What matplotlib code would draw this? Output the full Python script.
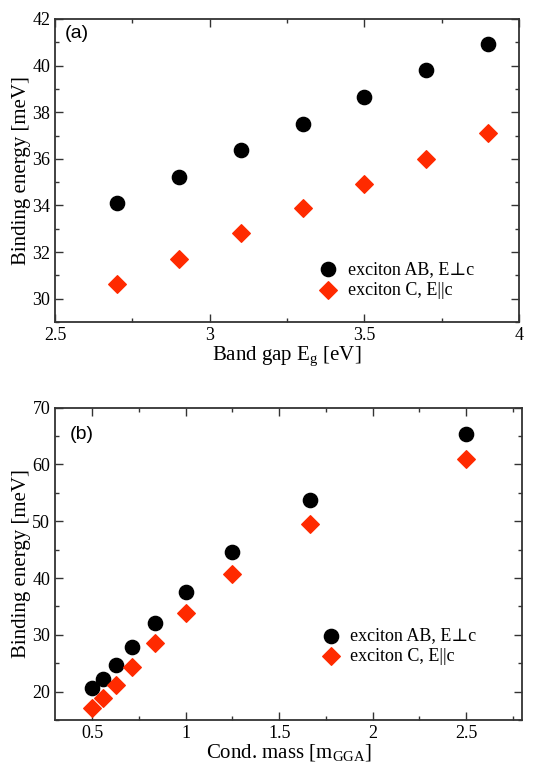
import matplotlib
matplotlib.use("Agg")
import matplotlib.pyplot as plt
from matplotlib.ticker import MultipleLocator

# Panel (a): binding energy vs band gap
band_gap = [2.7, 2.9, 3.1, 3.3, 3.5, 3.7, 3.9]
ab_gap = [34.1, 35.2, 36.37, 37.5, 38.65, 39.8, 40.93]
c_gap = [30.62, 31.71, 32.8, 33.87, 34.94, 36.01, 37.09]

# Panel (b): binding energy vs conduction mass
cond_mass = [0.5, 0.556, 0.625, 0.714, 0.833, 1.0, 1.25, 1.667, 2.5]
ab_mass = [20.6, 22.3, 24.6, 27.9, 32.0, 37.5, 44.6, 53.7, 65.4]
c_mass = [17.2, 18.9, 21.2, 24.3, 28.5, 33.9, 40.7, 49.5, 61.0]

label_ab = "exciton AB, E\u22a5c"
label_c = "exciton C, E||c"
red = "#ff2a00"

plt.rcParams["font.family"] = ["Liberation Serif", "DejaVu Serif"]

fig = plt.figure(figsize=(5.54, 7.64), dpi=100)
ax1 = fig.add_axes([0.0993, 0.5785, 0.8377, 0.3967])
ax2 = fig.add_axes([0.0993, 0.0576, 0.8430, 0.4088])


def style(ax):
    ax.tick_params(which="both", direction="in", top=True, right=True,
                   labelsize=13, width=1.0, colors="#333333", labelcolor="black")
    ax.tick_params(which="major", length=6)
    ax.tick_params(which="minor", length=3)
    for s in ax.spines.values():
        s.set_linewidth(1.3)
        s.set_color("#333333")


ax1.scatter(band_gap, ab_gap, s=105, c="black", marker="o", label=label_ab, zorder=3)
ax1.scatter(band_gap, c_gap, s=80, c=red, marker="D", label=label_c, zorder=3)
ax1.set_xlim(2.5, 4)
ax1.set_ylim(29, 42)
ax1.xaxis.set_major_locator(MultipleLocator(0.5))
ax1.xaxis.set_minor_locator(MultipleLocator(0.25))
ax1.yaxis.set_major_locator(MultipleLocator(2))
ax1.yaxis.set_minor_locator(MultipleLocator(1))
ax1.xaxis.set_major_formatter(lambda v, p: f"{v:g}")
ax1.set_xlabel("Band gap E$_\\mathregular{g}$ [eV]", fontsize=15, labelpad=1)
ax1.set_ylabel("Binding energy [meV]", fontsize=15, labelpad=1)
ax1.text(0.022, 0.98, "(a)", transform=ax1.transAxes, fontsize=14,
         family="Liberation Sans", va="top")
ax1.legend(loc="lower right", bbox_to_anchor=(0.93, 0.035), frameon=False,
           fontsize=13, handletextpad=0.1, labelspacing=0.2, borderpad=0.2)
style(ax1)

ax2.scatter(cond_mass, ab_mass, s=105, c="black", marker="o", label=label_ab, zorder=3)
ax2.scatter(cond_mass, c_mass, s=80, c=red, marker="D", label=label_c, zorder=3)
ax2.set_xlim(0.3, 2.8)
ax2.set_ylim(15, 70)
ax2.xaxis.set_major_locator(MultipleLocator(0.5))
ax2.xaxis.set_minor_locator(MultipleLocator(0.25))
ax2.yaxis.set_major_locator(MultipleLocator(10))
ax2.yaxis.set_minor_locator(MultipleLocator(5))
ax2.xaxis.set_major_formatter(lambda v, p: f"{v:g}")
ax2.set_xlabel("Cond. mass [m$_\\mathregular{GGA}$]", fontsize=15, labelpad=1)
ax2.set_ylabel("Binding energy [meV]", fontsize=15, labelpad=1)
ax2.text(0.032, 0.942, "(b)", transform=ax2.transAxes, fontsize=14,
         family="Liberation Sans", va="top")
ax2.legend(loc="lower right", bbox_to_anchor=(0.93, 0.135), frameon=False,
           fontsize=13, handletextpad=0.1, labelspacing=0.2, borderpad=0.2)
style(ax2)

fig.savefig("out.png", dpi=100)
